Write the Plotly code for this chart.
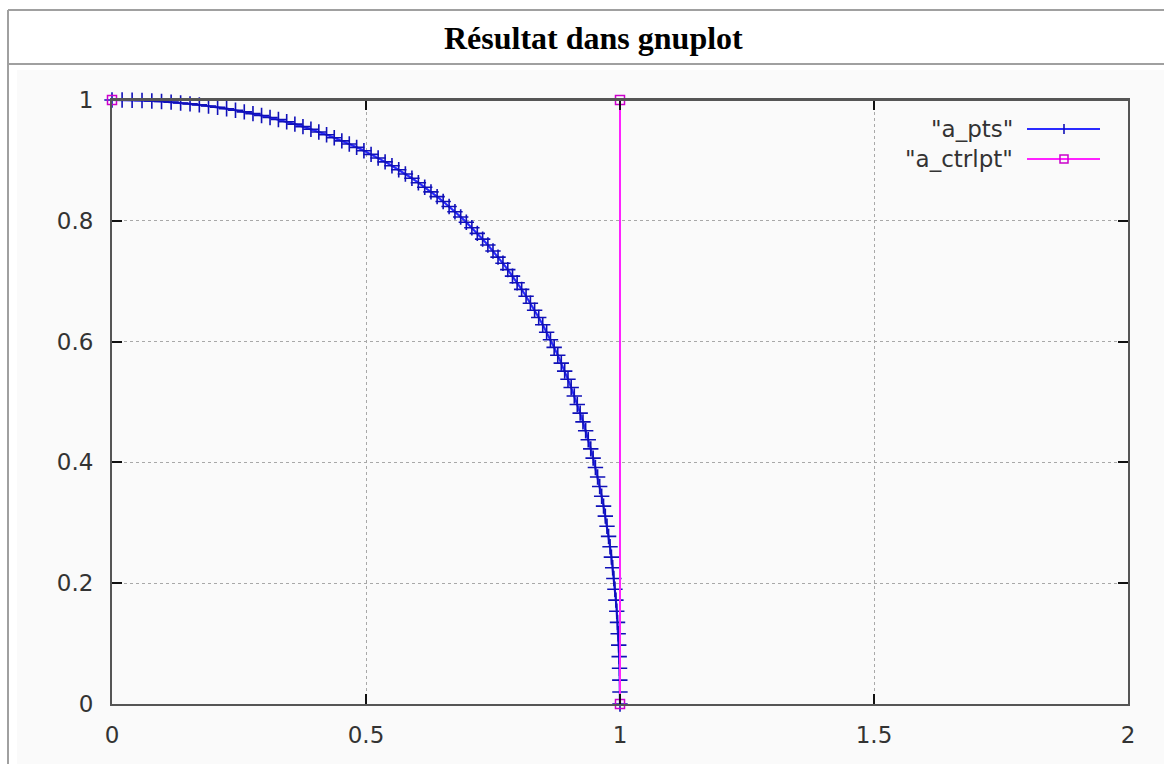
import plotly.graph_objects as go

# ---------------- data ----------------
a_pts_x = [0, 0.0199, 0.0396, 0.0591, 0.0784, 0.0975, 0.1164, 0.1351, 0.1536, 0.1719,
           0.19, 0.2079, 0.2256, 0.2431, 0.2604, 0.2775, 0.2944, 0.3111, 0.3276, 0.3439,
           0.36, 0.3759, 0.3916, 0.4071, 0.4224, 0.4375, 0.4524, 0.4671, 0.4816, 0.4959,
           0.51, 0.5239, 0.5376, 0.5511, 0.5644, 0.5775, 0.5904, 0.6031, 0.6156, 0.6279,
           0.64, 0.6519, 0.6636, 0.6751, 0.6864, 0.6975, 0.7084, 0.7191, 0.7296, 0.7399,
           0.75, 0.7599, 0.7696, 0.7791, 0.7884, 0.7975, 0.8064, 0.8151, 0.8236, 0.8319,
           0.84, 0.8479, 0.8556, 0.8631, 0.8704, 0.8775, 0.8844, 0.8911, 0.8976, 0.9039,
           0.91, 0.9159, 0.9216, 0.9271, 0.9324, 0.9375, 0.9424, 0.9471, 0.9516, 0.9559,
           0.96, 0.9639, 0.9676, 0.9711, 0.9744, 0.9775, 0.9804, 0.9831, 0.9856, 0.9879,
           0.99, 0.9919, 0.9936, 0.9951, 0.9964, 0.9975, 0.9984, 0.9991, 0.9996, 0.9999, 1]
a_pts_y = [1, 0.9999, 0.9996, 0.9991, 0.9984, 0.9975, 0.9964, 0.9951, 0.9936, 0.9919,
           0.99, 0.9879, 0.9856, 0.9831, 0.9804, 0.9775, 0.9744, 0.9711, 0.9676, 0.9639,
           0.96, 0.9559, 0.9516, 0.9471, 0.9424, 0.9375, 0.9324, 0.9271, 0.9216, 0.9159,
           0.91, 0.9039, 0.8976, 0.8911, 0.8844, 0.8775, 0.8704, 0.8631, 0.8556, 0.8479,
           0.84, 0.8319, 0.8236, 0.8151, 0.8064, 0.7975, 0.7884, 0.7791, 0.7696, 0.7599,
           0.75, 0.7399, 0.7296, 0.7191, 0.7084, 0.6975, 0.6864, 0.6751, 0.6636, 0.6519,
           0.64, 0.6279, 0.6156, 0.6031, 0.5904, 0.5775, 0.5644, 0.5511, 0.5376, 0.5239,
           0.51, 0.4959, 0.4816, 0.4671, 0.4524, 0.4375, 0.4224, 0.4071, 0.3916, 0.3759,
           0.36, 0.3439, 0.3276, 0.3111, 0.2944, 0.2775, 0.2604, 0.2431, 0.2256, 0.2079,
           0.19, 0.1719, 0.1536, 0.1351, 0.1164, 0.0975, 0.0784, 0.0591, 0.0396, 0.0199, 0]

a_ctrlpt_x = [0, 1, 1]
a_ctrlpt_y = [1, 1, 0]

x_ticks = [0, 0.5, 1, 1.5, 2]
x_tick_labels = ["0", "0.5", "1", "1.5", "2"]
y_ticks = [0, 0.2, 0.4, 0.6, 0.8, 1]
y_tick_labels = ["0", "0.2", "0.4", "0.6", "0.8", "1"]

series_names = ['"a_pts"', '"a_ctrlpt"']
title_text = "Résultat dans gnuplot"

# ---------------- layout geometry ----------------
W, H = 1164, 764
L, R, T, B = 112, 1128, 100, 704  # plot area in pixels


def fx(px):
    return (px - L) / (R - L)


def fy(py):
    return (B - py) / (B - T)


BLUE_LINE = "#2a2aff"
BLUE_MARK = "#1010b8"
MAG_LINE = "#ff22ff"
MAG_MARK = "#cc00cc"
BORDER = "#555555"
TICK_FONT = dict(family="DejaVu Sans", size=23, color="#333333")

fig = go.Figure()

fig.add_trace(go.Scatter(
    x=a_pts_x, y=a_pts_y, mode="lines+markers", name=series_names[0],
    line=dict(color=BLUE_LINE, width=2.2),
    marker=dict(symbol="cross-thin", size=11, line=dict(color=BLUE_MARK, width=1.6)),
    cliponaxis=False, showlegend=False,
))
fig.add_trace(go.Scatter(
    x=a_ctrlpt_x, y=a_ctrlpt_y, mode="lines+markers", name=series_names[1],
    line=dict(color=MAG_LINE, width=2),
    marker=dict(symbol="square-open", size=9, color=MAG_MARK, line=dict(color=MAG_MARK, width=1.5)),
    cliponaxis=False, showlegend=False,
))

shapes = []
# image background region
shapes.append(dict(type="rect", xref="paper", yref="paper", layer="below",
                   x0=fx(17), x1=fx(1170), y0=fy(70), y1=fy(770),
                   fillcolor="#fafafa", line=dict(width=0)))
# table frame
frame = dict(color="#a0a0a0", width=2)
shapes.append(dict(type="line", xref="paper", yref="paper", x0=fx(8), x1=fx(8), y0=fy(10), y1=fy(770), line=frame))
shapes.append(dict(type="line", xref="paper", yref="paper", x0=fx(8), x1=fx(1170), y0=fy(10), y1=fy(10), line=frame))
shapes.append(dict(type="line", xref="paper", yref="paper", x0=fx(8), x1=fx(1170), y0=fy(64), y1=fy(64), line=frame))

# gnuplot draws its border in front of the data
shapes.append(dict(type="line", xref="paper", yref="paper", layer="above",
                   x0=0, x1=1, y0=1, y1=1, line=dict(color=BORDER, width=2)))

# manual gnuplot-style legend (text left, sample right)
leg_rows = [(129, BLUE_LINE), (159, MAG_LINE)]
for (ly, col) in leg_rows:
    shapes.append(dict(type="line", xref="paper", yref="paper",
                       x0=fx(1027), x1=fx(1100), y0=fy(ly), y1=fy(ly),
                       line=dict(color=col, width=2)))
shapes.append(dict(type="line", xref="paper", yref="paper",
                   x0=fx(1064), x1=fx(1064), y0=fy(124), y1=fy(134),
                   line=dict(color=BLUE_MARK, width=1.6)))
shapes.append(dict(type="rect", xref="paper", yref="paper",
                   x0=fx(1060), x1=fx(1068), y0=fy(155), y1=fy(163),
                   line=dict(color=MAG_MARK, width=1.5)))

annotations = [
    dict(text="<b>" + title_text + "</b>", xref="paper", yref="paper",
         x=fx(593), y=fy(38), xanchor="center", yanchor="middle", showarrow=False,
         font=dict(family="Liberation Serif", size=32, color="#000000")),
]
for (ly, _), name in zip(leg_rows, series_names):
    annotations.append(dict(text=name, xref="paper", yref="paper",
                            x=fx(1015), y=fy(ly), xanchor="right", yanchor="middle",
                            showarrow=False, font=TICK_FONT))

axis_common = dict(
    showline=True, linecolor=BORDER, linewidth=2, mirror="ticks",
    ticks="inside", ticklen=10, tickwidth=1.5, tickcolor="#111111",
    showgrid=True, gridcolor="#a8a8a8", gridwidth=1, griddash="dot",
    zeroline=False, tickfont=TICK_FONT, fixedrange=True,
)

fig.update_layout(
    width=W, height=H,
    margin=dict(l=L, r=W - R, t=T, b=H - B, pad=0),
    paper_bgcolor="#ffffff", plot_bgcolor="#fafafa",
    xaxis=dict(range=[0, 2], tickvals=x_ticks, ticktext=x_tick_labels,
               ticklabelstandoff=9, **axis_common),
    yaxis=dict(range=[0, 1], tickvals=y_ticks, ticktext=y_tick_labels,
               ticklabelstandoff=12, **axis_common),
    shapes=shapes, annotations=annotations, showlegend=False,
    hovermode=False,
)

fig.write_html("out.html", config={"displayModeBar": False},
               post_script="document.body.style.margin='0';document.body.style.overflow='hidden';")
